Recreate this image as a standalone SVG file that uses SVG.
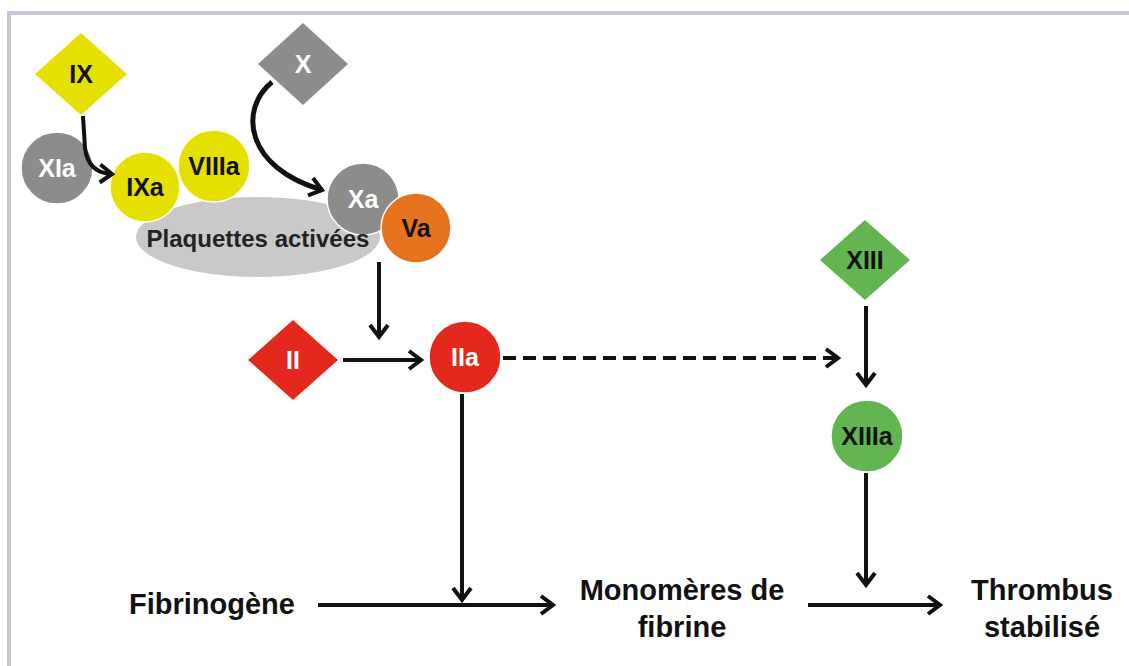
<svg xmlns="http://www.w3.org/2000/svg" width="1129" height="666" viewBox="0 0 1129 666">
<style>
.lbl{font-family:"Liberation Sans",Arial,sans-serif;font-weight:bold;text-anchor:middle;}
.node{font-size:25px;}
.w{fill:#ffffff;}
.k{fill:#111111;}
.big{font-size:29px;fill:#111111;}
.conn{fill:none;stroke:#111111;stroke-width:4;}
.dash{stroke-dasharray:13 7;}
.sh{stroke:#ffffff;stroke-width:1.5;}
</style>
<defs>
<marker id="ah" markerUnits="userSpaceOnUse" markerWidth="20" markerHeight="24" viewBox="0 0 20 24" refX="16" refY="12" orient="auto">
<polyline points="4,3 16,12 4,21" fill="none" stroke="#111111" stroke-width="4" stroke-linejoin="miter"/>
</marker>
</defs>
<rect x="0" y="0" width="1129" height="666" fill="#ffffff"/>
<rect x="9" y="13" width="1135" height="670" fill="none" stroke="#c6c6df" stroke-width="4"/>

<g id="plaquettes">
<ellipse cx="258" cy="237" rx="122" ry="40" fill="#c9c9c9"/>
</g>
<g id="IX">
<polygon points="81,33 127,74 81,115 35,74" fill="#e6e000"/>
<text class="lbl node k" x="81" y="83">IX</text>
</g>
<g id="X">
<polygon points="303,23 348,64 303,105 258,64" fill="#8c8c8c"/>
<text class="lbl node w" x="303" y="73">X</text>
</g>
<g id="XIa">
<circle cx="57" cy="168" r="36" fill="#8c8c8c" class="sh"/>
<text class="lbl node w" x="57" y="177">XIa</text>
</g>
<g id="IXa">
<circle cx="145" cy="187" r="35" fill="#e6e000" class="sh"/>
<text class="lbl node k" x="145" y="196">IXa</text>
</g>
<g id="VIIIa">
<circle cx="214" cy="166" r="36" fill="#e6e000" class="sh"/>
<text class="lbl node k" x="214" y="175">VIIIa</text>
</g>
<g id="Xa">
<circle cx="363" cy="199" r="36" fill="#8c8c8c" class="sh"/>
<text class="lbl node w" x="363" y="208">Xa</text>
</g>
<g id="Va">
<circle cx="416" cy="228" r="35" fill="#e8731f" class="sh"/>
<text class="lbl node k" x="416" y="237">Va</text>
</g>
<g id="plaquettes-label">
<text class="lbl k" style="font-size:24px;fill:#222222" x="258" y="247">Plaquettes activées</text>
</g>
<g id="II">
<polygon points="293,320 338,360 293,400 248,360" fill="#e3281e"/>
<text class="lbl node w" x="293" y="369">II</text>
</g>
<g id="IIa">
<circle cx="465" cy="357" r="36" fill="#e3281e" class="sh"/>
<text class="lbl node w" x="465" y="366">IIa</text>
</g>
<g id="XIII">
<polygon points="865,220 910,260 865,300 820,260" fill="#62b550"/>
<text class="lbl node k" x="865" y="269">XIII</text>
</g>
<g id="XIIIa">
<circle cx="867" cy="436" r="36" fill="#62b550" class="sh"/>
<text class="lbl node k" x="867" y="445">XIIIa</text>
</g>
<g id="fibrinogene">
<text class="lbl big" x="212" y="614">Fibrinogène</text>
</g>
<g id="monomeres">
<text class="lbl big" x="682" y="600">Monomères de</text>
<text class="lbl big" x="682" y="637">fibrine</text>
</g>
<g id="thrombus">
<text class="lbl big" x="1042" y="600">Thrombus</text>
<text class="lbl big" x="1042" y="637">stabilisé</text>
</g>

<g id="connectors">
<path class="conn" d="M83,116 L85,148 Q88,173 112,174" marker-end="url(#ah)"/>
<path class="conn" style="stroke-width:5" d="M272,82 C238,110 246,168 322,190" marker-end="url(#ah)"/>
<path class="conn" d="M379,262 L379,337" marker-end="url(#ah)"/>
<path class="conn" d="M343,360 L421,360" marker-end="url(#ah)"/>
<path class="conn dash" d="M503,358 L838,358" marker-end="url(#ah)"/>
<path class="conn" d="M866,306 L866,385" marker-end="url(#ah)"/>
<path class="conn" d="M462,394 L462,600" marker-end="url(#ah)"/>
<path class="conn" d="M866,473 L866,585" marker-end="url(#ah)"/>
<path class="conn" d="M318,605 L553,605" marker-end="url(#ah)"/>
<path class="conn" d="M808,605 L940,605" marker-end="url(#ah)"/>
</g>
</svg>
